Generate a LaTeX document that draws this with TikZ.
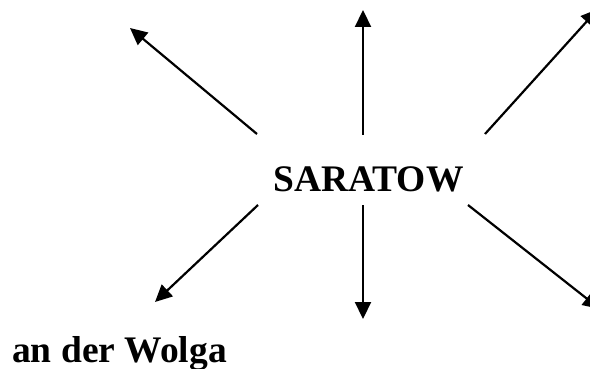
\documentclass[tikz,border=0pt]{standalone}
\usepackage{fontspec}
\setmainfont{Liberation Serif}
\usetikzlibrary{arrows.meta}
\begin{document}
\begin{tikzpicture}[x=1pt,y=-1pt,
  ray/.style={line width=2.2pt,-{Triangle[length=17pt,width=16pt]}},
  label/.style={inner sep=0pt,font=\fontsize{37.5}{42}\selectfont\bfseries}]
\useasboundingbox (0,0) rectangle (590,369);
\clip (0,0) rectangle (590,369);
\node[label,anchor=base] (city) at (368.5,191) {SARATOW};
\node[label,anchor=base west] (river) at (12,362) {an der Wolga};
% tails
\coordinate (tUL) at (257,134);
\coordinate (tU)  at (363,135);
\coordinate (tUR) at (485,134);
\coordinate (tLL) at (258,205);
\coordinate (tD)  at (363,205);
\coordinate (tLR) at (468,205);
% tips
\coordinate (hUL) at (130,28);
\coordinate (hU)  at (363,10);
\coordinate (hUR) at (598,9);
\coordinate (hLL) at (155,302);
\coordinate (hD)  at (363,319);
\coordinate (hLR) at (600,309);
\draw[ray] (tUL) -- (hUL);
\draw[ray] (tU) -- (hU);
\draw[ray] (tUR) -- (hUR);
\draw[ray] (tLL) -- (hLL);
\draw[ray] (tD) -- (hD);
\draw[ray] (tLR) -- (hLR);
\end{tikzpicture}
\end{document}
